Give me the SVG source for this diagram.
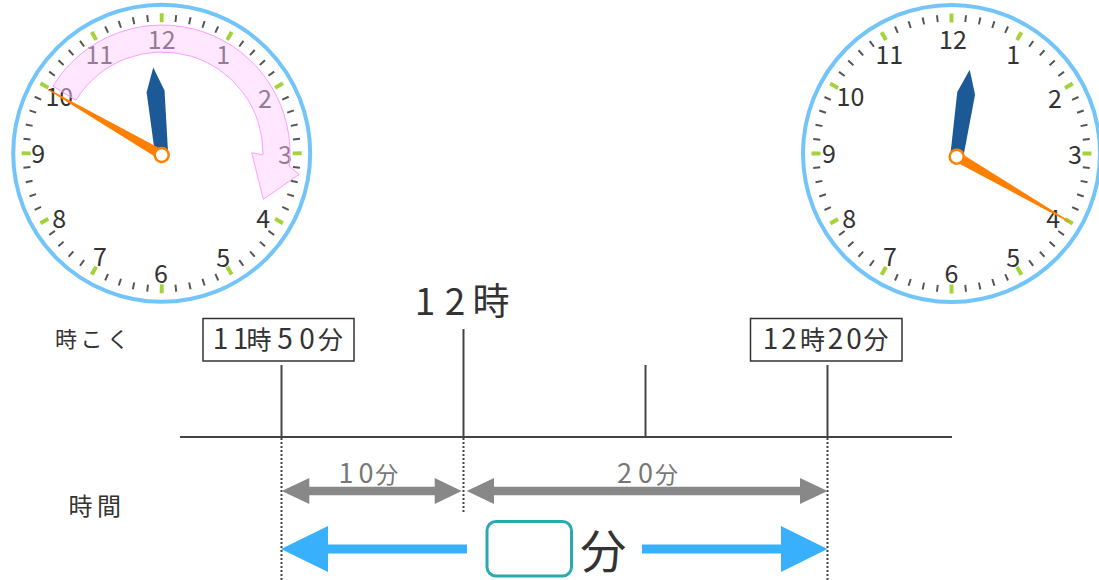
<svg xmlns="http://www.w3.org/2000/svg" xmlns:xlink="http://www.w3.org/1999/xlink" width="1099" height="580" viewBox="0 0 1099 580">
<style>
.t{font-family:"Noto Sans CJK JP","Noto Sans",sans-serif;fill:#333;text-anchor:middle}
.g{fill:#777}
.num{font-family:"Noto Sans CJK JP","Noto Sans",sans-serif;font-size:25px;fill:#333;text-anchor:middle;dominant-baseline:central}
.ring{fill:#fff;stroke:#73c5f9;stroke-width:4}
.mt{fill:none;stroke:#555;stroke-width:7;stroke-dasharray:0.14 0.86;stroke-dashoffset:0.07}
.ht{fill:none;stroke:#a3d23a;stroke-width:9;stroke-dasharray:0.056 0.944;stroke-dashoffset:0.028}
.hh{fill:#1b5a96}
.mh{fill:#ff8000}
.hub{fill:#fff;stroke:#ff8000;stroke-width:2.5}
.ax{stroke:#444;stroke-width:2;fill:none}
.dot{stroke:#444;stroke-width:2;stroke-dasharray:2 2;fill:none}
.box{fill:#fff;stroke:#333;stroke-width:1.5}
.ga{fill:#888}
.ba{fill:#38b0fc}
</style>
<defs>
<polygon id="hourhand" points="0,-88 9,-64 6.5,0 -6.5,0 -9,-64"/>
<polygon id="minhand" points="-5,0 -0.6,-130 0.6,-130 5,0"/>
</defs>

<g id="clock-left">
<circle class="ring" cx="161.7" cy="153.3" r="148.5"/>
<circle class="mt" cx="161.7" cy="153.3" r="135.5" pathLength="60"/>
<circle class="ht" cx="161.7" cy="153.3" r="135.5" pathLength="12"/>
<g class="num">
<text x="161.7" y="38.3">12</text>
<text x="223.3" y="53.3">1</text>
<text x="265" y="96.7">2</text>
<text x="285" y="153.3">3</text>
<text x="263.3" y="216.7">4</text>
<text x="223.3" y="256">5</text>
<text x="161" y="271.7">6</text>
<text x="100" y="255">7</text>
<text x="59.3" y="216.7">8</text>
<text x="38.3" y="151.7">9</text>
<text x="59.3" y="95">10</text>
<text x="99.3" y="53.3">11</text>
</g>
<path d="M52.9,86.1 A128,128 0 0 1 289.3,166.4 L299.3,174.3 L263.3,199.3 L251.7,152.7 L263,154.8 A101,101 0 0 0 75.9,100.2 Z" fill="#ffccff" fill-opacity="0.48" stroke="#ff9cff" stroke-width="1"/>
<use xlink:href="#hourhand" href="#hourhand" class="hh" transform="translate(161.7,155) rotate(-5.5)"/>
<use xlink:href="#minhand" href="#minhand" class="mh" transform="translate(161.7,155) rotate(-60)"/>
<circle class="hub" cx="161.7" cy="155" r="7"/>
</g>

<g id="clock-right">
<circle class="ring" cx="951.5" cy="153.5" r="148.5"/>
<circle class="mt" cx="951.5" cy="153.5" r="135.5" pathLength="60"/>
<circle class="ht" cx="951.5" cy="153.5" r="135.5" pathLength="12"/>
<g class="num">
<text x="953" y="38.3">12</text>
<text x="1013.3" y="53.3">1</text>
<text x="1055" y="96.7">2</text>
<text x="1075" y="153.3">3</text>
<text x="1053.3" y="216.7">4</text>
<text x="1013.3" y="256">5</text>
<text x="951.5" y="271.7">6</text>
<text x="890" y="255">7</text>
<text x="849.3" y="216.7">8</text>
<text x="829" y="151.7">9</text>
<text x="850.5" y="95">10</text>
<text x="889.3" y="53.3">11</text>
</g>
<use xlink:href="#hourhand" href="#hourhand" class="hh" transform="translate(956.7,156.7) rotate(8.5)"/>
<use xlink:href="#minhand" href="#minhand" class="mh" transform="translate(956.7,156.7) rotate(120)"/>
<circle class="hub" cx="956.7" cy="156.7" r="7"/>
</g>

<g id="label-jikoku">
<text class="t" y="346.5" font-size="22"><tspan x="66">時</tspan><tspan x="91.5">こ</tspan><tspan x="118">く</tspan></text>
</g>
<g id="label-jikan">
<text class="t" y="515" font-size="24"><tspan x="80.5">時</tspan><tspan x="109">間</tspan></text>
</g>
<g id="label-12ji">
<text class="t" y="315"><tspan x="425" font-size="37">1</tspan><tspan x="455" font-size="37">2</tspan><tspan x="491" font-size="37">時</tspan></text>
</g>
<g id="box-1150">
<rect class="box" x="203" y="318.5" width="151" height="42.5"/>
<text class="t" y="349"><tspan x="220.5" font-size="28">1</tspan><tspan x="240.5" font-size="28">1</tspan><tspan x="259" font-size="25">時</tspan><tspan x="285" font-size="28">5</tspan><tspan x="307" font-size="28">0</tspan><tspan x="330.5" font-size="25">分</tspan></text>
</g>
<g id="box-1220">
<rect class="box" x="750.5" y="318.5" width="151.5" height="42.5"/>
<text class="t" y="349"><tspan x="770.5" font-size="28">1</tspan><tspan x="789" font-size="28">2</tspan><tspan x="812.5" font-size="25">時</tspan><tspan x="835.5" font-size="28">2</tspan><tspan x="854" font-size="28">0</tspan><tspan x="876" font-size="25">分</tspan></text>
</g>
<g id="label-10fun">
<text class="t g" y="482.5"><tspan x="346" font-size="27">1</tspan><tspan x="366" font-size="27">0</tspan><tspan x="386.7" font-size="23">分</tspan></text>
</g>
<g id="label-20fun">
<text class="t g" y="482.5"><tspan x="624.5" font-size="27">2</tspan><tspan x="645.5" font-size="27">0</tspan><tspan x="666.5" font-size="23">分</tspan></text>
</g>
<g id="answer-box">
<rect x="487" y="521.5" width="84.5" height="54.5" rx="9" fill="#fff" stroke="#2aa9b1" stroke-width="3"/>
<text class="t" x="603.3" y="568" font-size="46">分</text>
</g>

<g id="connectors">
<line class="ax" x1="180" y1="437" x2="952" y2="437"/>
<line class="ax" x1="281.5" y1="365" x2="281.5" y2="437"/>
<line class="ax" x1="463.5" y1="329" x2="463.5" y2="437"/>
<line class="ax" x1="645.5" y1="365" x2="645.5" y2="437"/>
<line class="ax" x1="827.5" y1="365" x2="827.5" y2="437"/>
<line class="dot" x1="281.5" y1="438" x2="281.5" y2="580"/>
<line class="dot" x1="463.5" y1="438" x2="463.5" y2="512"/>
<line class="dot" x1="827.5" y1="438" x2="827.5" y2="580"/>
<polygon class="ga" points="281.7,491 309.3,478 309.3,486.8 434.7,486.8 434.7,478 461.7,491 434.7,504 434.7,495.2 309.3,495.2 309.3,504"/>
<polygon class="ga" points="466.7,491 494,478 494,486.8 800,486.8 800,478 827.5,491 800,504 800,495.2 494,495.2 494,504"/>
<polygon class="ba" points="281,549 328,526 328,544.5 467,544.5 467,553.5 328,553.5 328,572"/>
<polygon class="ba" points="827.5,549 781,526 781,544.5 642,544.5 642,553.5 781,553.5 781,572"/>
</g>
</svg>
